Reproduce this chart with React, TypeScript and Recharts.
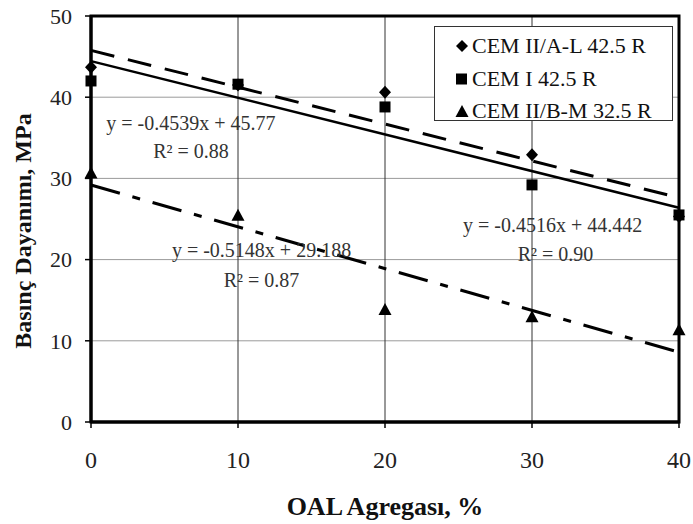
import {
  CartesianGrid,
  ComposedChart,
  Label,
  Line,
  ReferenceArea,
  ReferenceDot,
  Scatter,
  XAxis,
  YAxis,
} from 'recharts'

// OAL aggregate share (%)
const oal = [0, 10, 20, 30, 40]

// compressive strength, MPa
const cemIIAL = [43.7, 41.5, 40.6, 32.9, 25.3]
const cemI = [42.0, 41.6, 38.8, 29.2, 25.5]
const cemIIBM = [30.6, 25.4, 13.8, 12.9, 11.3]

// linear fits as printed on the chart: [slope, intercept]
const fitIIAL = [-0.4539, 45.77]
const fitI = [-0.4516, 44.442]
const fitIIBM = [-0.5148, 29.188]

const xTicks = [0, 10, 20, 30, 40]
const yTicks = [0, 10, 20, 30, 40, 50]

const FONT = 'Liberation Serif, Times New Roman, serif'

const toPoints = (ys: number[]) => oal.map((x, i) => ({ x, y: ys[i] }))
const fitLine = ([m, b]: number[]) => [0, 40].map((x) => ({ x, y: m * x + b }))

// equation labels, placed in data coordinates
const notes = [
  { x: 6.8, y: 36.8, text: 'y = -0.4539x + 45.77' },
  { x: 6.8, y: 33.4, text: 'R² = 0.88' },
  { x: 11.6, y: 21.2, text: 'y = -0.5148x + 29.188' },
  { x: 11.6, y: 17.5, text: 'R² = 0.87' },
  { x: 31.4, y: 24.3, text: 'y = -0.4516x + 44.442' },
  { x: 31.6, y: 20.7, text: 'R² = 0.90' },
]

const Diamond = ({ cx, cy }: any) => (
  <polygon
    points={`${cx},${cy - 6.5} ${cx + 6},${cy} ${cx},${cy + 6.5} ${cx - 6},${cy}`}
    fill="#000"
  />
)
const Square = ({ cx, cy }: any) => <rect x={cx - 5.5} y={cy - 5.5} width={11} height={11} fill="#000" />
const Triangle = ({ cx, cy }: any) => (
  <polygon points={`${cx},${cy - 7} ${cx + 6.5},${cy + 5} ${cx - 6.5},${cy + 5}`} fill="#000" />
)

function LegendBox() {
  const rows = [
    { label: 'CEM II/A-L 42.5 R', icon: <polygon points="7,1 13,7 7,13 1,7" fill="#000" /> },
    { label: 'CEM I 42.5 R', icon: <rect x={1} y={1.5} width={11} height={11} fill="#000" /> },
    { label: 'CEM II/B-M 32.5 R', icon: <polygon points="7,1 13.5,13 0.5,13" fill="#000" /> },
  ]
  return (
    <div
      style={{
        position: 'absolute',
        left: 434,
        top: 26,
        width: 239,
        height: 95,
        border: '1.5px solid #333',
        background: '#fff',
        padding: '3px 0 0 20px',
        boxSizing: 'border-box',
        fontFamily: FONT,
        fontSize: 22,
        color: '#111',
      }}
    >
      {rows.map((r) => (
        <div key={r.label} style={{ display: 'flex', alignItems: 'center', height: 32.5 }}>
          <svg width={15} height={14} style={{ marginRight: 2 }}>
            {r.icon}
          </svg>
          <span>{r.label}</span>
        </div>
      ))}
    </div>
  )
}

export default function App() {
  const yTick = { fontSize: 22, fill: '#222', fontFamily: FONT }
  const xTick = { fontSize: 24, fill: '#222', fontFamily: FONT }
  const axisTitle = { fontFamily: FONT, fontWeight: 'bold', fill: '#111' }
  return (
    <div style={{ position: 'absolute', left: 0, top: 0, width: 693, height: 524, background: '#fff', fontFamily: FONT }}>
      <ComposedChart width={693} height={524} margin={{ top: 16, right: 14, bottom: 0, left: 0 }}>
        <CartesianGrid horizontal vertical={false} stroke="#9a9a9a" strokeWidth={1} />
        <CartesianGrid horizontal={false} vertical stroke="#333" strokeWidth={1} />
        <XAxis
          type="number"
          dataKey="x"
          domain={[0, 40]}
          ticks={xTicks}
          height={102}
          tick={xTick}
          tickSize={6}
          tickMargin={23}
          axisLine={{ stroke: '#000', strokeWidth: 3 }}
          tickLine={{ stroke: '#000', strokeWidth: 1.5 }}
        >
          <Label value="OAL Agregası, %" position="center" dy={33} style={{ ...axisTitle, fontSize: 26 }} />
        </XAxis>
        <YAxis
          type="number"
          dataKey="y"
          domain={[0, 50]}
          ticks={yTicks}
          width={91}
          tick={yTick}
          tickSize={6}
          tickMargin={13}
          axisLine={{ stroke: '#000', strokeWidth: 3 }}
          tickLine={{ stroke: '#000', strokeWidth: 1.5 }}
        >
          <Label
            value="Basınç Dayanımı, MPa"
            position="center"
            angle={-90}
            dx={-23}
            dy={12}
            style={{ ...axisTitle, fontSize: 24, textAnchor: 'middle' }}
          />
        </YAxis>
        <ReferenceArea x1={0} x2={40} y1={0} y2={50} fill="none" stroke="#000" strokeWidth={3} />

        <Line
          data={fitLine(fitIIAL)}
          dataKey="y"
          stroke="#000"
          strokeWidth={3}
          strokeDasharray="24 14"
          dot={false}
          isAnimationActive={false}
        />
        <Line
          data={fitLine(fitI)}
          dataKey="y"
          stroke="#000"
          strokeWidth={2.5}
          dot={false}
          isAnimationActive={false}
        />
        <Line
          data={fitLine(fitIIBM)}
          dataKey="y"
          stroke="#000"
          strokeWidth={3}
          strokeDasharray="30 13 8 13"
          dot={false}
          isAnimationActive={false}
        />

        <Scatter data={toPoints(cemIIAL)} shape={Diamond} isAnimationActive={false} />
        <Scatter data={toPoints(cemI)} shape={Square} isAnimationActive={false} />
        <Scatter data={toPoints(cemIIBM)} shape={Triangle} isAnimationActive={false} />

        {notes.map((n) => (
          <ReferenceDot
            key={n.text}
            x={n.x}
            y={n.y}
            r={0}
            fill="none"
            stroke="none"
            label={{
              value: n.text,
              position: 'center',
              style: { fontFamily: FONT, fontSize: 20, fill: '#333' },
            }}
          />
        ))}
      </ComposedChart>
      <LegendBox />
    </div>
  )
}
